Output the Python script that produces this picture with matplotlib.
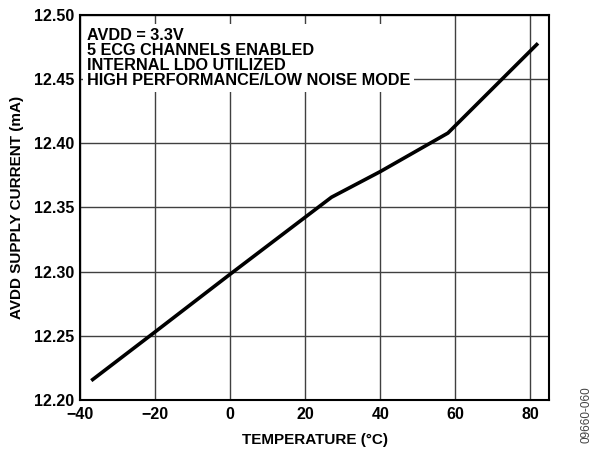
import matplotlib
matplotlib.use('Agg')
from matplotlib import pyplot as plt

plt.rcParams['font.family'] = ['Liberation Sans', 'DejaVu Sans']

temp = [-37, -20, 0, 27, 40, 58, 82]
current = [12.215, 12.253, 12.298, 12.358, 12.378, 12.408, 12.478]
xticks = [-40, -20, 0, 20, 40, 60, 80]
xticklabels = ['\u221240', '\u221220', '0', '20', '40', '60', '80']
yticks = [12.20, 12.25, 12.30, 12.35, 12.40, 12.45, 12.50]
notes = 'AVDD = 3.3V\n5 ECG CHANNELS ENABLED\nINTERNAL LDO UTILIZED\nHIGH PERFORMANCE/LOW NOISE MODE'

fig = plt.figure(figsize=(5.97, 4.57), dpi=100)
ax = fig.add_axes([0.134, 0.125, 0.786, 0.842])

ax.plot(temp, current, color='black', lw=2.6, solid_capstyle='butt', zorder=3)

ax.set_xlim(-40, 85)
ax.set_ylim(12.20, 12.50)
ax.set_xticks(xticks)
ax.set_xticklabels(xticklabels)
ax.set_yticks(yticks)
ax.set_yticklabels(['%.2f' % v for v in yticks])
ax.grid(True, color='#404040', lw=1.0)
ax.tick_params(length=0, labelsize=11.5)
ax.tick_params(axis='y', pad=4)
ax.tick_params(axis='x', pad=5)
for lab in ax.get_xticklabels() + ax.get_yticklabels():
    lab.set_fontweight('bold')
for sp in ax.spines.values():
    sp.set_linewidth(1.5)

ax.set_xlabel('TEMPERATURE (°C)', fontsize=11, fontweight='bold', labelpad=8)
ax.set_ylabel('AVDD SUPPLY CURRENT (mA)', fontsize=11, fontweight='bold', labelpad=7)

ax.text(-38.2, 12.490, notes, fontsize=11.7, fontweight='bold', va='top', ha='left',
        linespacing=1.0, zorder=4,
        bbox=dict(facecolor='white', edgecolor='none', pad=3))

fig.text(0.982, 0.03, '09660-060', rotation=90, fontsize=8.5, color='#444444',
         ha='center', va='bottom')

fig.savefig('out.png', dpi=100)
